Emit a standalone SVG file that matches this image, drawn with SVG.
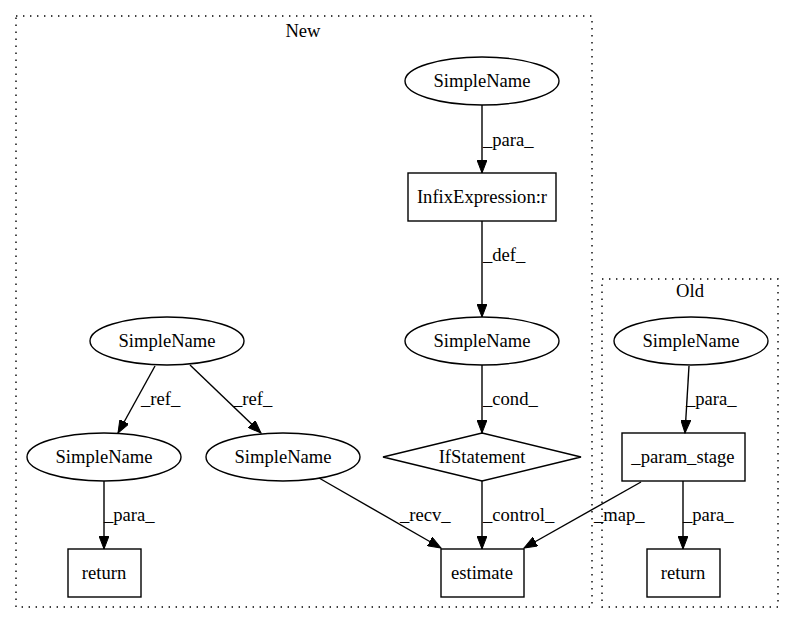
<svg xmlns="http://www.w3.org/2000/svg" width="793" height="624" viewBox="0 0 793 624">
<style>
text{font-family:"Liberation Serif","Times New Roman",serif;font-size:18.6px;fill:#000}
.n{fill:none;stroke:#000;stroke-width:1.4}
.c{fill:none;stroke:#000;stroke-width:1.4;stroke-dasharray:1.4,5.6}
.e{fill:none;stroke:#000;stroke-width:1.4;marker-end:url(#ah)}
.m{text-anchor:middle}
</style>
<defs>
<marker id="ah" markerUnits="userSpaceOnUse" markerWidth="14" markerHeight="10" refX="13" refY="5" orient="auto">
<polygon points="0,0 13,5 0,10" fill="#000" stroke="#000" stroke-width="1"/>
</marker>
</defs>
<rect width="793" height="624" fill="#fff"/>
<g id="cluster_new">
<rect class="c" x="16" y="16" width="576" height="591"/>
<text class="m" x="303" y="37">New</text>
</g>
<g id="cluster_old">
<rect class="c" x="602" y="279" width="176" height="328"/>
<text class="m" x="690" y="297">Old</text>
</g>
<g id="edges">
<path class="e" d="M482,105 L482,173"/>
<text x="483" y="146">_para_</text>
<path class="e" d="M482,221 L482,317"/>
<text x="483" y="261">_def_</text>
<path class="e" d="M155,366 L118,433"/>
<text x="141" y="405">_ref_</text>
<path class="e" d="M190,365 L261,433"/>
<text x="233" y="405">_ref_</text>
<path class="e" d="M482,365 L482,433"/>
<text x="483" y="405">_cond_</text>
<path class="e" d="M689,366 L685,433"/>
<text x="686" y="405">_para_</text>
<path class="e" d="M104,481 L104,549"/>
<text x="104" y="521">_para_</text>
<path class="e" d="M319,478 L441,548"/>
<text x="400" y="521">_recv_</text>
<path class="e" d="M482,481 L482,549"/>
<text x="483" y="521">_control_</text>
<path class="e" d="M641,482 L524,548"/>
<text x="594" y="521">_map_</text>
<path class="e" d="M683,481 L683,549"/>
<text x="683" y="521">_para_</text>
</g>
<g id="n_sn_top"><ellipse class="n" cx="482" cy="81" rx="77" ry="24"/><text class="m" x="482" y="87">SimpleName</text></g>
<g id="n_infix"><rect class="n" x="408" y="173" width="148" height="48"/><text class="m" x="482" y="203">InfixExpression:r</text></g>
<g id="n_sn_mid"><ellipse class="n" cx="482" cy="341" rx="77" ry="24"/><text class="m" x="482" y="347">SimpleName</text></g>
<g id="n_if"><polygon class="n" points="482,433 581,457 482,481 383,457"/><text class="m" x="482" y="463">IfStatement</text></g>
<g id="n_estimate"><rect class="n" x="441" y="549" width="83" height="48"/><text class="m" x="482" y="579">estimate</text></g>
<g id="n_sn_l0"><ellipse class="n" cx="167" cy="341" rx="77" ry="24"/><text class="m" x="167" y="347">SimpleName</text></g>
<g id="n_sn_l1"><ellipse class="n" cx="104" cy="457" rx="77" ry="24"/><text class="m" x="104" y="463">SimpleName</text></g>
<g id="n_sn_l2"><ellipse class="n" cx="283" cy="457" rx="77" ry="24"/><text class="m" x="283" y="463">SimpleName</text></g>
<g id="n_return_l"><rect class="n" x="68" y="549" width="73" height="48"/><text class="m" x="104" y="579">return</text></g>
<g id="n_sn_old"><ellipse class="n" cx="691" cy="341" rx="77" ry="24"/><text class="m" x="691" y="347">SimpleName</text></g>
<g id="n_param"><rect class="n" x="622" y="433" width="123" height="48"/><text class="m" x="683" y="463">_param_stage</text></g>
<g id="n_return_old"><rect class="n" x="647" y="549" width="73" height="48"/><text class="m" x="683" y="579">return</text></g>
</svg>
